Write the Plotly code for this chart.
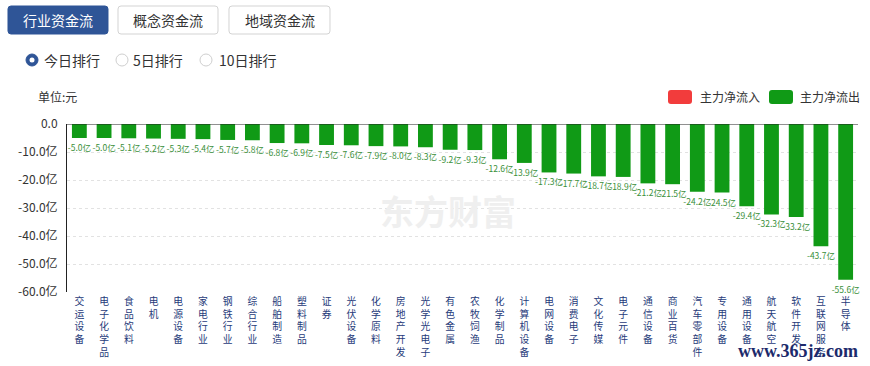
import plotly.graph_objects as go

categories = ["交运设备", "电子化学品", "食品饮料", "电机", "电源设备", "家电行业", "钢铁行业",
              "综合行业", "船舶制造", "塑料制品", "证券", "光伏设备", "化学原料", "房地产开发",
              "光学光电子", "有色金属", "农牧饲渔", "化学制品", "计算机设备", "电网设备", "消费电子",
              "文化传媒", "电子元件", "通信设备", "商业百货", "汽车零部件", "专用设备", "通用设备",
              "航天航空", "软件开发", "互联网服务", "半导体"]
net_flow = [-5.0, -5.0, -5.1, -5.2, -5.3, -5.4, -5.7, -5.8, -6.8, -6.9, -7.5, -7.6, -7.9, -8.0,
            -8.3, -9.2, -9.3, -12.6, -13.9, -17.3, -17.7, -18.7, -18.9, -21.2, -21.5, -24.2,
            -24.5, -29.4, -32.3, -33.2, -43.7, -55.6]
y_tick_vals = [0, -10, -20, -30, -40, -50, -60]
y_tick_text = ["0.0", "-10.0亿", "-20.0亿", "-30.0亿", "-40.0亿", "-50.0亿", "-60.0亿"]
tabs = ["行业资金流", "概念资金流", "地域资金流"]
radios = ["今日排行", "5日排行", "10日排行"]
legend_names = ["主力净流入", "主力净流出"]

W, H = 870, 366
ML, MR, MT, MB = 67, 12, 124, 74
PW, PH = W - ML - MR, H - MT - MB
FONT = "Noto Sans CJK SC, Noto Sans, sans-serif"
GREEN = "#109a16"
RED = "#f23c3c"
BLUE = "#2f5597"


def px(x):
    return (x - ML) / PW


def py(y):
    return (H - MB - y) / PH


def rrect(x0, y0, x1, y1, r):
    pts = [
        ("M", [(x0 + r, y0)]), ("L", [(x1 - r, y0)]), ("Q", [(x1, y0), (x1, y0 + r)]),
        ("L", [(x1, y1 - r)]), ("Q", [(x1, y1), (x1 - r, y1)]), ("L", [(x0 + r, y1)]),
        ("Q", [(x0, y1), (x0, y1 - r)]), ("L", [(x0, y0 + r)]), ("Q", [(x0, y0), (x0 + r, y0)]),
    ]
    s = ""
    for cmd, ps in pts:
        s += cmd + " " + " ".join(f"{px(a):.5f},{py(b):.5f}" for a, b in ps) + " "
    return s + "Z"


fig = go.Figure()
fig.add_trace(go.Bar(
    x=categories, y=net_flow, marker=dict(color=GREEN, line=dict(width=0)),
    texttemplate="%{y:.1f}亿", textposition="outside", constraintext="none",
    textangle=0, cliponaxis=False,
    textfont=dict(size=8.5, color="#3a8f3a", family=FONT),
    hoverinfo="x+y", showlegend=False,
))

shapes = []
annotations = []

# zero line
shapes.append(dict(type="line", xref="paper", yref="y", x0=0, x1=1, y0=0, y1=0,
                   line=dict(color="#222", width=1), layer="above"))

# tabs
tab_x = [(8, 108), (118, 218), (229, 330)]
for i, (name, (a, b)) in enumerate(zip(tabs, tab_x)):
    active = i == 0
    shapes.append(dict(type="path", xref="paper", yref="paper", path=rrect(a, 6, b, 34, 3),
                       fillcolor=BLUE if active else "white",
                       line=dict(color=BLUE if active else "#d3d3d3", width=1)))
    annotations.append(dict(xref="paper", yref="paper", x=px((a + b) / 2), y=py(20), text=name,
                            showarrow=False, xanchor="center", yanchor="middle",
                            font=dict(size=14, color="white" if active else "#333", family=FONT)))

# radios
radio_c = [32, 122, 206]
radio_t = [42, 131, 217]
for i, (name, c, t) in enumerate(zip(radios, radio_c, radio_t)):
    if i == 0:
        shapes.append(dict(type="circle", xref="paper", yref="paper",
                           x0=px(c - 6), x1=px(c + 6), y0=py(66), y1=py(54),
                           fillcolor=BLUE, line=dict(color=BLUE, width=1)))
        shapes.append(dict(type="circle", xref="paper", yref="paper",
                           x0=px(c - 2.5), x1=px(c + 2.5), y0=py(62.5), y1=py(57.5),
                           fillcolor="white", line=dict(color="white", width=0)))
    else:
        shapes.append(dict(type="circle", xref="paper", yref="paper",
                           x0=px(c - 6), x1=px(c + 6), y0=py(66), y1=py(54),
                           fillcolor="white", line=dict(color="#cfcfcf", width=1)))
    annotations.append(dict(xref="paper", yref="paper", x=px(t), y=py(60), text=name,
                            showarrow=False, xanchor="left", yanchor="middle",
                            font=dict(size=14, color="#333", family=FONT)))

# unit label
annotations.append(dict(xref="paper", yref="paper", x=px(36), y=py(97), text="单位:元",
                        showarrow=False, xanchor="left", yanchor="middle",
                        font=dict(size=12, color="#333", family=FONT)))

# legend
leg_rect = [(668, 692), (769, 793)]
leg_text = [698, 798]
for name, (a, b), t, col in zip(legend_names, leg_rect, leg_text, [RED, GREEN]):
    shapes.append(dict(type="path", xref="paper", yref="paper", path=rrect(a, 90, b, 104, 3),
                       fillcolor=col, line=dict(color=col, width=0)))
    annotations.append(dict(xref="paper", yref="paper", x=px(t), y=py(97), text=name,
                            showarrow=False, xanchor="left", yanchor="middle",
                            font=dict(size=12, color="#333", family=FONT)))

# watermarks
annotations.append(dict(xref="paper", yref="paper", x=px(448), y=py(210), text="<b>东方财富</b>",
                        showarrow=False, xanchor="center", yanchor="middle",
                        font=dict(size=34, color="#efefef", family=FONT)))
annotations.append(dict(xref="paper", yref="paper", x=px(736), y=py(351), text="<b>www.365jz.com</b>",
                        showarrow=False, xanchor="left", yanchor="middle",
                        font=dict(size=18, color="#1c2a6b", family="Liberation Serif, DejaVu Serif, serif")))

# vertical category tick labels: one character per line
x_tick_text = ["<br>".join(c) for c in categories]

fig.update_layout(
    width=W, height=H, margin=dict(l=ML, r=MR, t=MT, b=MB),
    paper_bgcolor="white", plot_bgcolor="white",
    bargap=0.4, showlegend=False,
    font=dict(family=FONT, color="#333"),
    shapes=shapes, annotations=annotations,
    xaxis=dict(type="category", tickvals=categories, ticktext=x_tick_text, tickangle=0,
               tickfont=dict(size=9.8, color="#1f3b7a", family=FONT),
               showgrid=False, zeroline=False, showline=False, ticks="",
               ticklabelstandoff=2, automargin=False, fixedrange=True),
    yaxis=dict(range=[-60, 0], tickvals=y_tick_vals, ticktext=y_tick_text,
               showgrid=True, gridcolor="#e2e2e2", griddash="dot", gridwidth=1,
               zeroline=False, showline=True, linecolor="#222", linewidth=1,
               ticks="", ticklabelstandoff=6, automargin=False,
               tickfont=dict(size=12, color="#333", family=FONT), fixedrange=True),
)

fig.write_html("out.html", config={"displayModeBar": False},
               post_script="document.body.style.margin='0';document.body.style.overflow='hidden';")
